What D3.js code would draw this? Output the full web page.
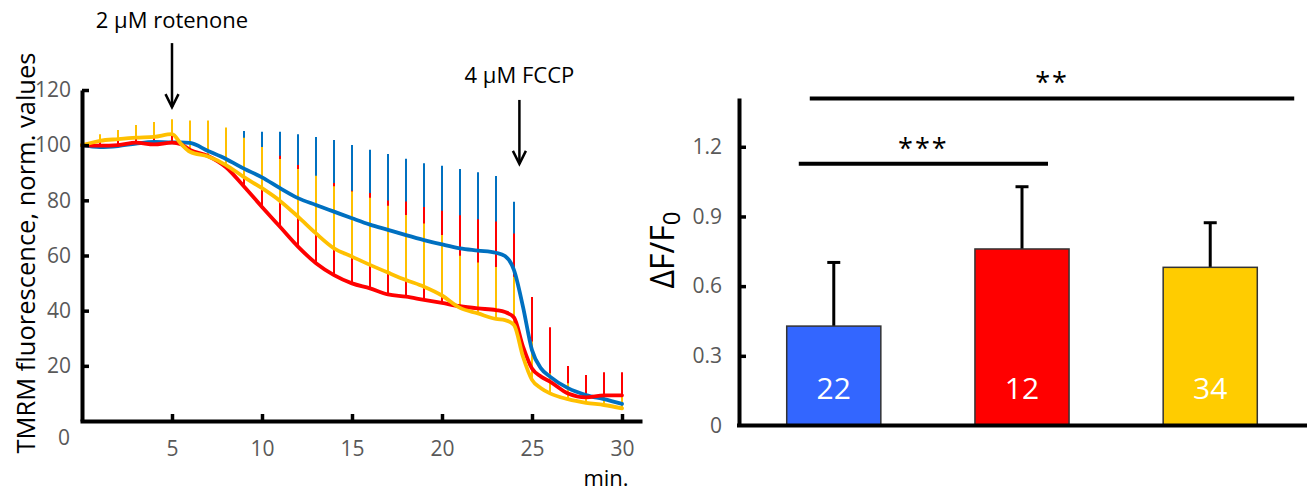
<!DOCTYPE html>
<html><head><meta charset="utf-8">
<script src="https://cdn.jsdelivr.net/npm/d3@7"></script>
<style>
body{margin:0;background:#fff;}
svg{display:block;font-family:"Open Sans",sans-serif;}
</style></head><body>
<svg id="chart" width="1310" height="494"></svg>
<script>
// ---------- Left panel data (time course) ----------
const minutes = [0,1,2,3,4,5,5.5,6,7,8,9,10,11,12,13,14,15,16,17,18,19,20,21,22,23,23.5,24,24.5,25,25.5,26,27,28,29,30];
const blueMean   = [100,99.3,99.7,100.6,101.2,101,101,100.8,97.9,95,91.5,88.3,84.4,80.8,78.3,75.9,73.5,71.2,69.3,67.4,65.6,64,62.6,61.8,61,59.8,54.7,41.4,25.7,19.1,16.1,11.9,9.4,7.9,6.2];
const redMean    = [100,99.8,100,100.9,100.3,100.9,100.3,98.3,96.1,92,85,77.6,70.4,63.2,57.2,52.9,49.9,48.1,45.9,45.1,43.9,42.8,41.6,40.8,40.2,39.5,37.5,27,19,16.1,14.3,10,8.6,9.3,9.3];
const yellowMean = [100,101.6,102.2,102.7,103,104,100.5,97.6,95.9,92.8,88.4,84.4,79.8,74.1,68,62.6,59.6,56.6,53.8,51.1,48.7,45.5,41,39,37,36.6,34.8,23.3,14.9,11.9,10,7.9,6.6,5.8,4.6];

const errMinutes = [1,2,3,4,5,6,7,8,9,10,11,12,13,14,15,16,17,18,19,20,21,22,23,24,25,26,27,28,29,30];
const blueErrTop   = [102,102.5,103.5,104,104,104.5,104.5,104.5,105.1,104.9,104.9,104,103,101.9,100.1,98.3,96.8,95.1,93.4,92.5,91.4,90.2,88.8,79.5,30,17.5,14,12,9.5,7.5];
const redErrTop    = [102,103,103.5,104,104.5,104,103.5,101,98,97,96.2,92.8,88.5,86.3,83.5,82.7,79.9,79.6,77.6,76.2,74.6,73.1,72.3,68,45,34,19.9,16.7,17.7,17.7];
const yellowErrTop = [104,105.5,107.3,108.4,109.4,108.9,108.9,106.4,102.7,99.3,95,91.4,88.9,85.1,83.2,80.9,78,74.7,71.6,67.4,59.9,57.5,55.8,52.3,28.8,17.3,13.7,9,8.8,9.8];

const yTicksLeft = [0,20,40,60,80,100,120];
const xTicksLeft = [5,10,15,20,25,30];

// annotations: label, minute, text level, arrow top, arrow tip (data units)
const arrowLabels = ["2 \u03BCM rotenone", "4 \u03BCM FCCP"];
const arrowMinutes = [5, 24.3];
const arrowTextLevel = [142.5, 122.5];
const arrowTop = [137, 116.4];
const arrowTip = [113.8, 93.2];

// ---------- Right panel data (bars) ----------
const groups = ["g1","g2","g3"];
const barValues = [0.428, 0.76, 0.681];
const barSem = [0.274, 0.268, 0.192];
const barCounts = ["22","12","34"];
const yTicksRight = [0,0.3,0.6,0.9,1.2];
const sigLabels = ["***","**"];
const sigFrom = [0,0];
const sigTo = [1,2];
const sigLevel = [1.127, 1.408];

// ---------- styles ----------
const C = {blue:"#0070C0", red:"#FF0000", yellow:"#FFC000"};
const barColors = ["#3366FF","#FF0000","#FFCC00"];
const tickGrey = "#595959";

const svg = d3.select("#chart");

// ===== Left panel =====
const x = d3.scaleLinear().domain([0,31]).range([82,640]);
const y = d3.scaleLinear().domain([0,120]).range([421,90]);

const series = [
  {mean: blueMean, top: blueErrTop, color: C.blue},
  {mean: redMean, top: redErrTop, color: C.red},
  {mean: yellowMean, top: yellowErrTop, color: C.yellow}
];

const gL = svg.append("g");
// error bars (upper only)
series.forEach(s => {
  gL.append("g").selectAll("line").data(errMinutes).join("line")
    .attr("x1", t => x(t)).attr("x2", t => x(t))
    .attr("y1", t => y(s.mean[minutes.indexOf(t)]))
    .attr("y2", (t,i) => y(s.top[i]))
    .attr("stroke", s.color).attr("stroke-width", 2);
});
// lines
const line = d3.line().x((d,i)=>x(minutes[i])).y(d=>y(d)).curve(d3.curveMonotoneX);
series.forEach(s => {
  gL.append("path").attr("d", line(s.mean)).attr("fill","none")
    .attr("stroke", s.color).attr("stroke-width", 3.8).attr("stroke-linejoin","round").attr("stroke-linecap","round");
});

// axes
const yAxisL = gL.append("g").attr("transform", `translate(${x(0)},0)`)
  .call(d3.axisLeft(y).tickValues(yTicksLeft).tickSize(-7).tickSizeOuter(0).tickPadding(11));
yAxisL.select(".domain").attr("stroke","#000").attr("stroke-width",4);
yAxisL.selectAll(".tick line").attr("stroke","#000").attr("stroke-width",3.5);
yAxisL.selectAll(".tick text").attr("fill",tickGrey).style("font-size","21px").style("font-family","Open Sans");
yAxisL.selectAll(".tick").filter(d=>d===0).select("text").attr("y",17).attr("x",-12);
yAxisL.selectAll(".tick").filter(d=>d===0).select("line").remove();

const xAxisL = gL.append("g").attr("transform", `translate(0,${y(0)})`)
  .call(d3.axisBottom(x).tickValues(xTicksLeft).tickSize(-7).tickSizeOuter(0).tickPadding(20));
xAxisL.select(".domain").attr("stroke","#000").attr("stroke-width",4).attr("stroke-linecap","square");
xAxisL.selectAll(".tick line").attr("stroke","#000").attr("stroke-width",3.5);
xAxisL.selectAll(".tick text").attr("fill",tickGrey).style("font-size","21px").style("font-family","Open Sans");

gL.append("text").attr("x", 606).attr("y", 486).attr("text-anchor","middle")
  .style("font-size","22px").attr("fill","#000").text("min.");

gL.append("text").attr("transform","translate(35,253) rotate(-90)").attr("text-anchor","middle")
  .style("font-size","25.5px").attr("fill","#000").text("TMRM fluorescence, norm. values");

// arrows
arrowLabels.forEach((lab,i) => {
  const ax = x(arrowMinutes[i]);
  gL.append("text").attr("x", ax).attr("y", y(arrowTextLevel[i])).attr("text-anchor","middle")
    .style("font-size","22px").attr("fill","#000").text(lab);
  gL.append("line").attr("x1",ax).attr("x2",ax).attr("y1",y(arrowTop[i])).attr("y2",y(arrowTip[i]))
    .attr("stroke","#000").attr("stroke-width",2.5);
  gL.append("path").attr("d", `M${ax-6.5},${y(arrowTip[i])-13}L${ax},${y(arrowTip[i])}L${ax+6.5},${y(arrowTip[i])-13}`)
    .attr("fill","none").attr("stroke","#000").attr("stroke-width",2.5);
});

// ===== Right panel =====
const yR = d3.scaleLinear().domain([0,1.41]).range([425.5,98]);
const xR = d3.scaleBand().domain(groups).range([739,1305]).paddingInner(0.5).paddingOuter(0.2535);
const gR = svg.append("g");
const bw = xR.bandwidth();

// error bars
gR.append("g").selectAll("line").data(groups).join("line")
  .attr("x1", g=>xR(g)+bw/2).attr("x2", g=>xR(g)+bw/2)
  .attr("y1", (g,i)=>yR(barValues[i])).attr("y2",(g,i)=>yR(barValues[i]+barSem[i]))
  .attr("stroke","#000").attr("stroke-width",3);
gR.append("g").selectAll("line").data(groups).join("line")
  .attr("x1", g=>xR(g)+bw/2-6.5).attr("x2", g=>xR(g)+bw/2+6.5)
  .attr("y1", (g,i)=>yR(barValues[i]+barSem[i])).attr("y2",(g,i)=>yR(barValues[i]+barSem[i]))
  .attr("stroke","#000").attr("stroke-width",3);
// bars
gR.append("g").selectAll("rect").data(groups).join("rect")
  .attr("x", g=>xR(g)).attr("width", bw)
  .attr("y", (g,i)=>yR(barValues[i])).attr("height",(g,i)=>yR(0)-yR(barValues[i]))
  .attr("fill",(g,i)=>barColors[i]).attr("stroke","#333").attr("stroke-width",1.5);
// counts
gR.append("g").selectAll("text").data(groups).join("text")
  .attr("x", g=>xR(g)+bw/2).attr("y", 399).attr("text-anchor","middle")
  .style("font-size","30px").attr("fill","#fff").text((g,i)=>barCounts[i]);

// axes
const yAxisR = gR.append("g").attr("transform",`translate(739,0)`)
  .call(d3.axisLeft(yR).tickValues(yTicksRight).tickSize(-7).tickSizeOuter(0).tickPadding(17)
    .tickFormat(d=> d===0 ? "0" : d3.format(".1f")(d)));
yAxisR.select(".domain").attr("stroke","#000").attr("stroke-width",4);
yAxisR.selectAll(".tick line").attr("stroke","#000").attr("stroke-width",3.5);
yAxisR.selectAll(".tick").filter(d=>d===0).select("line").remove();
yAxisR.selectAll(".tick text").attr("fill",tickGrey).style("font-size","21px").style("font-family","Open Sans");
gR.append("line").attr("x1",737).attr("x2",1307).attr("y1",yR(0)).attr("y2",yR(0))
  .attr("stroke","#000").attr("stroke-width",4);

// y label ΔF/F0
const lab = gR.append("text").attr("transform","translate(674,250) rotate(-90)").attr("text-anchor","middle")
  .style("font-size","32px").attr("fill","#000");
lab.append("tspan").text("\u0394F/F");
lab.append("tspan").attr("baseline-shift","-25%").style("font-size","24px").text("0");

// significance brackets
const sigLeftOff = [-35, -24];
const sigRightOff = [26, 84];
sigLabels.forEach((s,i)=>{
  const x1 = xR(groups[sigFrom[i]])+bw/2+sigLeftOff[i];
  const x2 = xR(groups[sigTo[i]])+bw/2+sigRightOff[i];
  const yy = yR(sigLevel[i]);
  gR.append("line").attr("x1",x1).attr("x2",x2).attr("y1",yy).attr("y2",yy)
    .attr("stroke","#000").attr("stroke-width",4);
  gR.append("text").attr("x",(x1+x2)/2).attr("y",yy-6).attr("text-anchor","middle")
    .style("font-size","27px").attr("letter-spacing","2px").attr("fill","#000").text(s);
});
</script>
</body></html>
